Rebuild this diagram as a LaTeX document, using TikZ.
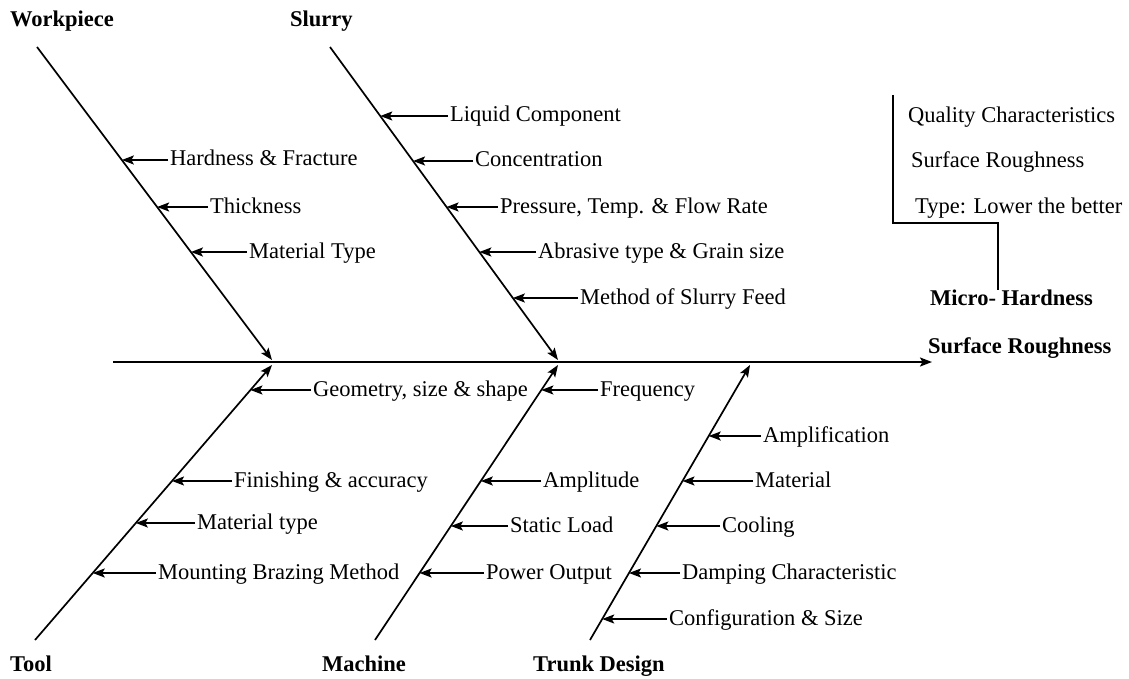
\documentclass[tikz,border=0pt]{standalone}
\usepackage{fontspec}
\setmainfont{Liberation Serif}
\usetikzlibrary{arrows.meta,calc}
\begin{document}
\begin{tikzpicture}[x=1pt,y=-1pt,
  bone/.style={line width=1.7pt},
  sub/.style={line width=1.7pt,-{Stealth[length=12pt,width=9pt,inset=2.5pt]}},
  lbl/.style={anchor=base west,inner sep=2pt,font=\fontsize{22.5}{26}\selectfont},
  cat/.style={anchor=base west,inner sep=0pt,font=\fontsize{22.5}{26}\selectfont\bfseries}]
\useasboundingbox[fill=white] (0,0) rectangle (1129,679);
% spine
\coordinate (s0) at (113,362);
\coordinate (s1) at (932,362);
\draw[sub,line width=2pt] (s0) -- (s1);
% bones
\coordinate (wA) at (37,47);   \coordinate (wB) at (272,360);
\coordinate (sA) at (330,47);  \coordinate (sB) at (558,360);
\coordinate (tA) at (35,640);  \coordinate (tB) at (272,365);
\coordinate (mA) at (375,640); \coordinate (mB) at (558,365);
\coordinate (kA) at (590,640); \coordinate (kB) at (750,365);
\foreach \a/\b in {wA/wB,sA/sB,tA/tB,mA/mB,kA/kB}{\draw[sub] (\a) -- (\b);}
% category labels
\node[cat] (cw) at (10,27) {Workpiece};
\node[cat] (cs) at (290,27) {Slurry};
\node[cat] (ct) at (10,671) {Tool};
\node[cat] (cm) at (322,671) {Machine};
\node[cat] (ck) at (533,671) {Trunk Design};
% sub causes: name / bone A / bone B / y / t / text x / text
\foreach \n/\A/\B/\y/\t/\x/\txt in {
  w1/wA/wB/160/{113/313}/168/{Hardness \& Fracture},
  w2/wA/wB/207/{160/313}/208/{Thickness},
  w3/wA/wB/252/{205/313}/247/{Material Type},
  s1/sA/sB/116/{69/313}/448/{Liquid Component},
  s2/sA/sB/161/{114/313}/473/{Concentration},
  s3/sA/sB/207/{160/313}/498/{Pressure, Temp. \& Flow Rate},
  s4/sA/sB/252/{205/313}/536/{Abrasive type \& Grain size},
  s5/sA/sB/298/{251/313}/578/{Method of Slurry Feed},
  t1/tA/tB/390/{250/275}/311/{Geometry, size \& shape},
  t2/tA/tB/481/{159/275}/232/{Finishing \& accuracy},
  t3/tA/tB/523/{117/275}/195/{Material type},
  t4/tA/tB/573/{67/275}/156/{Mounting Brazing Method},
  m1/mA/mB/390/{250/275}/598/{Frequency},
  m2/mA/mB/481/{159/275}/541/{Amplitude},
  m3/mA/mB/526/{114/275}/508/{Static Load},
  m4/mA/mB/573/{67/275}/484/{Power Output},
  k1/kA/kB/436/{204/275}/761/{Amplification},
  k2/kA/kB/481/{159/275}/753/{Material},
  k3/kA/kB/526/{114/275}/720/{Cooling},
  k4/kA/kB/573/{67/275}/680/{Damping Characteristic},
  k5/kA/kB/619/{21/275}/667/{Configuration \& Size}}{
  \coordinate (\n tip) at ($(\A)!\t!(\B)$);
  \node[lbl] (\n) at (\x,\y+6) {\txt};
  \draw[sub] (\n tip -| \n.west) -- (\n tip);
}
% quality characteristics
\node[lbl,inner sep=0pt] (q1) at (908,123) {Quality Characteristics};
\node[lbl,inner sep=0pt] (q2) at (911,168) {Surface Roughness};
\node[lbl,inner sep=0pt] (q3) at (915,214) {Type: Lower the better};
\coordinate (b0) at (893,95);
\coordinate (b1) at (893,223);
\coordinate (b2) at (998,223);
\coordinate (b3) at (998,290);
\draw[bone] (b0) -- (b1) -- (b2) -- (b3);
\node[cat] (mh) at (930,305) {Micro- Hardness};
\node[cat] (sr) at (928,353) {Surface Roughness};
\end{tikzpicture}
\end{document}
